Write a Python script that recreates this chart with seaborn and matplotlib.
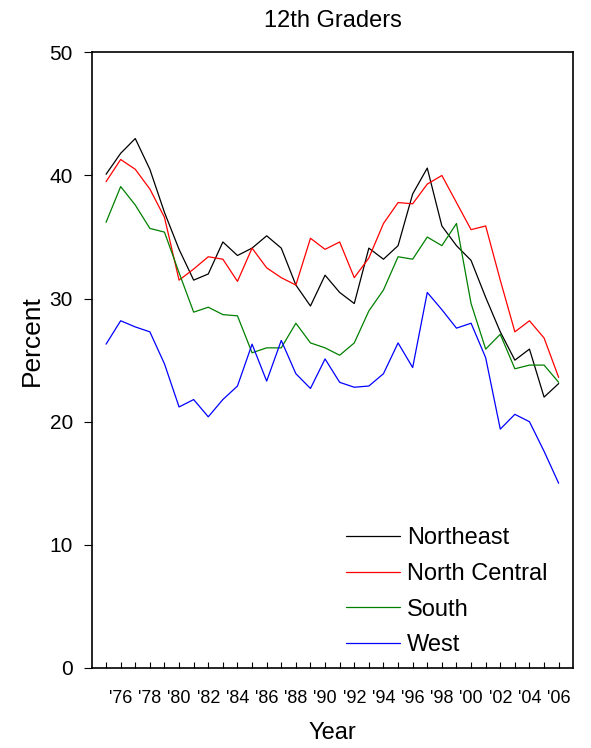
import pandas as pd
import numpy as np
from matplotlib import pyplot as plt
import seaborn as sns

# valores (porcentaje por año y región)
years = list(range(1975, 2007))

northeast = [40.1, 41.8, 43.0, 40.5, 37.0, 34.0, 31.5, 32.0, 34.6, 33.5, 34.1, 35.1,
             34.1, 31.1, 29.4, 31.9, 30.5, 29.6, 34.1, 33.2, 34.3, 38.5, 40.6, 35.9,
             34.3, 33.1, 30.1, 27.3, 25.0, 25.9, 22.0, 23.1]
north_central = [39.5, 41.3, 40.5, 38.9, 36.6, 31.5, 32.4, 33.4, 33.2, 31.4, 34.1, 32.5,
                 31.7, 31.1, 34.9, 34.0, 34.6, 31.7, 33.3, 36.1, 37.8, 37.7, 39.3, 40.0,
                 37.8, 35.6, 35.9, 31.5, 27.3, 28.2, 26.8, 23.6]
south = [36.2, 39.1, 37.6, 35.7, 35.4, 32.1, 28.9, 29.3, 28.7, 28.6, 25.6, 26.0,
         26.0, 28.0, 26.4, 26.0, 25.4, 26.4, 29.0, 30.7, 33.4, 33.2, 35.0, 34.3,
         36.1, 29.6, 25.9, 27.1, 24.3, 24.6, 24.6, 23.2]
west = [26.3, 28.2, 27.7, 27.3, 24.7, 21.2, 21.8, 20.4, 21.8, 22.9, 26.3, 23.3,
        26.6, 23.9, 22.7, 25.1, 23.2, 22.8, 22.9, 23.9, 26.4, 24.4, 30.5, 29.1,
        27.6, 28.0, 25.2, 19.4, 20.6, 20.0, 17.6, 15.0]

regions = ['Northeast', 'North Central', 'South', 'West']
colores = {'Northeast': 'black', 'North Central': 'red', 'South': 'green', 'West': 'blue'}

# se arma el DataFrame en formato largo
df = pd.DataFrame({
    'year': years * 4,
    'pct': northeast + north_central + south + west,
    'region': [r for r in regions for _ in years],
})

sns.set_style('ticks', rc={'text.color': 'black', 'axes.labelcolor': 'black',
                           'xtick.color': 'black', 'ytick.color': 'black',
                           'axes.edgecolor': 'black'})
plt.rcParams['font.family'] = ['Liberation Sans', 'DejaVu Sans']

fig = plt.figure(figsize=(5.91, 7.48), dpi=100)
ax = fig.add_axes([0.156, 0.107, 0.814, 0.823])

sns.lineplot(data=df, x='year', y='pct', hue='region', hue_order=regions,
             palette=colores, linewidth=0.9, errorbar=None, ax=ax)

ax.set_xlim(1974.05, 2007)
ax.set_ylim(0, 50)
ax.set_yticks(range(0, 51, 10))
ax.set_xticks(years)
ax.set_xticklabels(["'%02d" % (y % 100) if y % 2 == 0 else '' for y in years])

ax.tick_params(axis='x', direction='in', length=4, width=0.8, pad=16, labelsize=13)
ax.tick_params(axis='y', direction='out', length=6, width=0.8, pad=8, labelsize=15)
for s in ax.spines.values():
    s.set_linewidth(1.2)

ax.set_title('12th Graders', fontsize=17, pad=18)
ax.set_xlabel('Year', fontsize=17, labelpad=11)
ax.set_ylabel('Percent', fontsize=19)
ax.yaxis.set_label_coords(-0.10, 0.532)

ax.legend(loc='upper left', bbox_to_anchor=(0.527, 0.2286), frameon=False, fontsize=17,
          handlelength=2.29, handletextpad=0.3, labelspacing=0.58,
          borderpad=0, borderaxespad=0)

plt.savefig('out.png', dpi=100)
